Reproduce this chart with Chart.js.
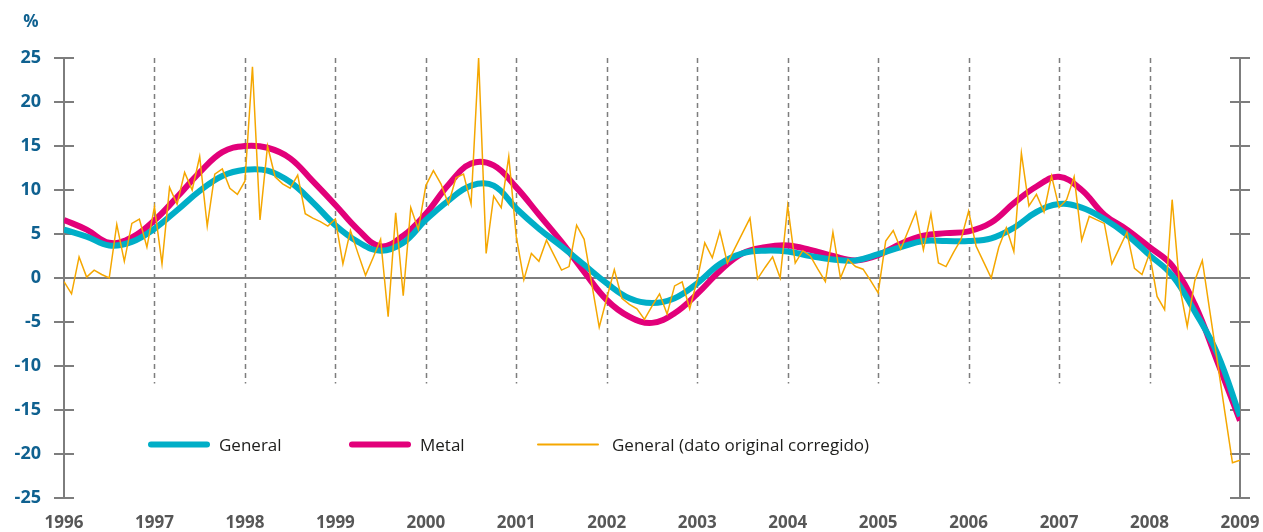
<!DOCTYPE html>
<html>
<head>
<meta charset="utf-8">
<script src="https://cdn.jsdelivr.net/npm/chart.js@4.4.0/dist/chart.umd.min.js"></script>
<style>
  body { margin: 0; background: #fff; }
  .wrap { position: relative; width: 1263px; height: 532px; font-family: "Open Sans", sans-serif; }
  .legend-item { position: absolute; top: 444px; display: flex; align-items: center; transform: translateY(-50%); font-size: 17px; color: #1d1d1b; white-space: nowrap; }
  .swatch { display: inline-block; width: 62px; margin-right: 9px; border-radius: 3px; }
</style>
</head>
<body>
<div class="wrap">
  <canvas id="chart" width="1263" height="532"></canvas>
  <div id="legend"></div>
</div>
<script>
// year labels, one every 12 months
const years = ["1996", "1997", "1998", "1999", "2000", "2001", "2002", "2003", "2004", "2005", "2006", "2007", "2008", "2009"];

// smoothed series, read every 3 months from Jan 1996 to Jan 2009
const generalTrend = [5.5, 4.7, 3.7, 4.1, 5.6, 7.7, 9.9, 11.6, 12.3, 12.2, 10.9, 8.6, 6.0, 4.1, 3.1, 4.0, 6.6, 8.8, 10.5, 10.5,
  7.9, 5.6, 3.6, 1.5, -0.6, -2.3, -2.85, -2.3, -0.6, 1.6, 2.8, 3.1, 3.0, 2.5, 2.1, 2.0, 2.7, 3.5, 4.2, 4.2,
  4.2, 4.5, 5.7, 7.5, 8.4, 8.0, 6.7, 4.9, 2.6, 0.3, -3.8, -8.6, -15.7];
const metalTrend = [6.6, 5.5, 4.0, 4.6, 6.55, 9.2, 12.0, 14.3, 15.0, 14.8, 13.6, 11.0, 8.3, 5.5, 3.6, 4.8, 7.3, 10.6, 13.0, 12.8,
  10.3, 7.2, 4.1, 0.7, -2.5, -4.4, -5.1, -4.0, -1.8, 0.8, 2.8, 3.5, 3.7, 3.2, 2.5, 2.0, 2.6, 3.9, 4.8, 5.1,
  5.3, 6.3, 8.5, 10.4, 11.5, 10.0, 7.2, 5.5, 3.5, 1.4, -3.0, -9.5, -16.2];

// monthly original data (corrected), Jan 1996 .. Jan 2009
const generalOriginal = [
  -0.4, -1.8, 2.4, 0.1, 0.9, 0.4, 0, 6.1, 1.9, 6.2, 6.7, 3.5,
  8.1, 1.6, 10.3, 8.4, 12.0, 10.0, 13.8, 5.9, 11.8, 12.4, 10.2, 9.5,
  11.0, 24.0, 6.6, 15.0, 11.5, 10.7, 10.2, 11.7, 7.3, 6.8, 6.4, 5.9,
  6.7, 1.6, 5.4, 2.8, 0.3, 2.3, 4.4, -4.4, 7.4, -2.0, 8.0, 5.5,
  10.5, 12.2, 10.7, 8.4, 11.4, 11.8, 8.4, 25.0, 2.8, 9.3, 8.0, 13.8,
  4.7, -0.2, 2.8, 1.9, 4.3, 2.6, 0.9, 1.3, 6.0, 4.4, -0.6, -5.6,
  -2.3, 0.95, -2.3, -3.0, -3.5, -4.7, -3.2, -1.8, -4.1, -0.9, -0.45, -3.5,
  -0.2, 4.0, 2.3, 5.3, 1.7, 3.4, 5.1, 6.8, -0.1, 1.2, 2.4, 0,
  8.2, 1.7, 3.1, 2.5, 1.0, -0.4, 5.2, 0, 2.1, 1.3, 1.0, -0.3,
  -1.7, 4.2, 5.4, 3.3, 5.4, 7.5, 3.2, 7.3, 1.7, 1.3, 2.9, 4.4,
  7.6, 3.6, 1.8, 0, 3.5, 5.7, 3.0, 14.2, 8.2, 9.5, 7.5, 11.6,
  8.0, 8.9, 11.5, 4.3, 7.0, 6.6, 6.2, 1.6, 3.4, 5.2, 1.1, 0.4,
  2.8, -2.1, -3.6, 8.9, -1.0, -5.5, -0.3, 2.0, -3.8, -9.5, -15.3, -21.0,
  -20.7
];

const trendStep = 3;
const dashBottom = -12;
const axisColor = "#7d7d7d";

// axes, ticks on both sides, zero line and dashed year lines
const axisDecor = {
  id: "axisDecor",
  beforeDatasetsDraw(chart) {
    const { ctx, chartArea: a, scales: { x, y } } = chart;
    ctx.save();
    ctx.strokeStyle = axisColor;

    ctx.lineWidth = 1.5;
    ctx.setLineDash([5, 4]);
    for (let m = 12; m < 156; m += 12) {
      const px = Math.round(x.getPixelForValue(m)) + 0.5;
      ctx.beginPath();
      ctx.moveTo(px, a.top);
      ctx.lineTo(px, y.getPixelForValue(dashBottom));
      ctx.stroke();
    }
    ctx.setLineDash([]);

    ctx.lineWidth = 2;
    const y0 = y.getPixelForValue(0);
    ctx.beginPath();
    ctx.moveTo(a.left, y0);
    ctx.lineTo(a.right, y0);
    ctx.stroke();

    [a.left, a.right].forEach((px) => {
      ctx.beginPath();
      ctx.moveTo(px, a.top);
      ctx.lineTo(px, a.bottom);
      ctx.stroke();
      for (let v = -25; v <= 25; v += 5) {
        const py = y.getPixelForValue(v);
        ctx.beginPath();
        ctx.moveTo(px - 10, py);
        ctx.lineTo(px + 10, py);
        ctx.stroke();
      }
    });
    ctx.restore();
  },
  afterDraw(chart) {
    const { ctx } = chart;
    ctx.save();
    ctx.fillStyle = "#0f6190";
    ctx.font = "bold 17px 'Open Sans'";
    ctx.textAlign = "center";
    ctx.textBaseline = "middle";
    ctx.fillText("%", 31, 22);
    ctx.restore();
  },
};

new Chart(document.getElementById("chart"), {
  type: "line",
  data: {
    datasets: [
      {
        label: "General",
        data: generalTrend.map((v, i) => ({ x: i * trendStep, y: v })),
        borderColor: "#00aec7",
        borderWidth: 6,
        tension: 0.4,
        pointRadius: 0,
        order: 1,
      },
      {
        label: "Metal",
        data: metalTrend.map((v, i) => ({ x: i * trendStep, y: v })),
        borderColor: "#e2007a",
        borderWidth: 6,
        tension: 0.4,
        pointRadius: 0,
        order: 2,
      },
      {
        label: "General (dato original corregido)",
        data: generalOriginal.map((v, i) => ({ x: i, y: v })),
        borderColor: "#f5a700",
        borderWidth: 1.5,
        tension: 0,
        pointRadius: 0,
        order: 0,
      },
    ],
  },
  options: {
    responsive: false,
    animation: false,
    layout: { padding: { top: 58, right: 23, left: 0, bottom: 0 } },
    plugins: { legend: { display: false }, tooltip: { enabled: false } },
    scales: {
      x: {
        type: "linear",
        min: 0,
        max: 156,
        grid: { display: false, drawTicks: false },
        border: { display: false },
        afterFit: (s) => {
          s.height = 34;
          s.paddingLeft = 0;
          s.paddingRight = 0;
        },
        ticks: {
          stepSize: 12,
          autoSkip: false,
          maxRotation: 0,
          padding: 15,
          color: "#575757",
          font: { family: "Open Sans", size: 17, weight: "bold" },
          callback: (v) => years[v / 12],
        },
      },
      y: {
        min: -25,
        max: 25,
        grid: { display: false, drawTicks: false },
        border: { display: false },
        afterFit: (s) => { s.width = 64; },
        ticks: {
          stepSize: 5,
          padding: 23,
          color: "#0f6190",
          font: { family: "Open Sans", size: 18, weight: "bold" },
          callback: (v) => String(v),
        },
      },
    },
  },
  plugins: [axisDecor],
});

// legend inside the plot, built from the datasets
const legendX = [148, 349, 537];
const legendOrder = [0, 1, 2];
const chart = Chart.getChart("chart");
const legend = document.getElementById("legend");
legendOrder.forEach((d, k) => {
  const ds = chart.data.datasets[d];
  const item = document.createElement("div");
  item.className = "legend-item";
  item.style.left = legendX[k] + "px";
  const sw = document.createElement("span");
  sw.className = "swatch";
  sw.style.background = ds.borderColor;
  sw.style.height = (ds.borderWidth > 3 ? 6 : 2) + "px";
  if (ds.borderWidth <= 3) sw.style.marginRight = "13px";
  item.appendChild(sw);
  item.appendChild(document.createTextNode(ds.label));
  legend.appendChild(item);
});
</script>
</body>
</html>
